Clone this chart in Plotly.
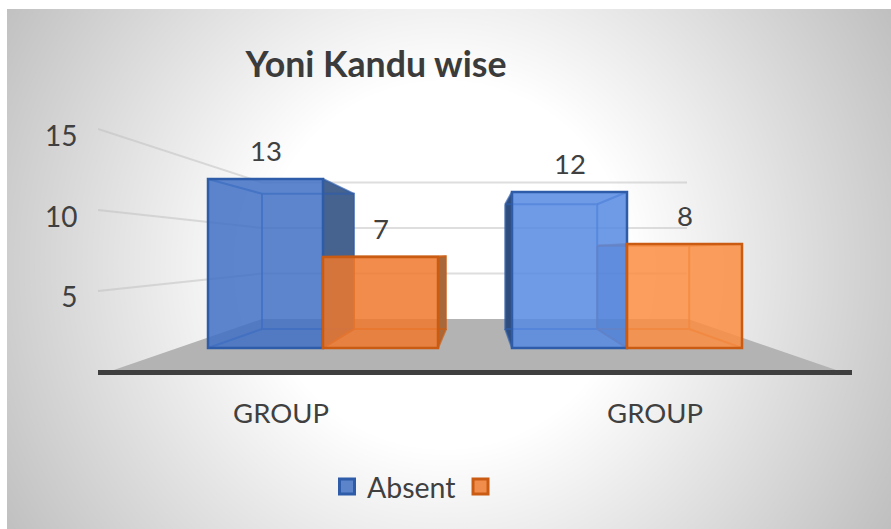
import plotly.graph_objects as go

# ---- chart data ----
categories = [0, 1]
category_labels = ["GROUP", "GROUP"]
absent_values = [13, 12]
other_values = [7, 8]
axis_ticks = [5, 10, 15]
series_names = ["Absent", " "]

# ---- styles ----
FONT = "Lato"
TEXT = "#404040"
BLUE_FILL = ["rgba(64,112,196,0.85)", "rgba(85,136,226,0.85)"]
ORANGE_FILL = ["rgba(238,120,45,0.85)", "rgba(250,141,66,0.85)"]
BLUE_EDGE = "#2F5CA8"
ORANGE_EDGE = "#C95C12"
BLUE_BACK = "rgba(47,92,168,0.7)"
ORANGE_BACK = "rgba(201,92,18,0.7)"
BLUE_SIDE = ["#46628F", "#2F4D7C"]
ORANGE_SIDE = ["rgba(60,45,40,0.0)", "rgba(30,50,110,0.42)"]
ORANGE_OUT = "#A9683A"

W, H = 891, 529
PL, PR, PT, PB = 98, 852, 100, 370   # plot area in page pixels

# scales (page pixels <-> data) of the perspective drawing
PX_PER_CAT = 304.0
CAT0_PX = 323.0
BAR_W = 115.0 / PX_PER_CAT
PX_PER_VAL = 13.0
BASE_PX = 348.0
LABEL_PX_PER_VAL = 16.07
LABEL_ZERO_PX = 377.4
VP = (478.0, 253.0)
DEPTH = 0.8


def x_data(px):
    return (px - CAT0_PX) / PX_PER_CAT


def x_px(x):
    return CAT0_PX + PX_PER_CAT * x


def y_px(v):
    return BASE_PX - PX_PER_VAL * v


def y1(py):
    return (LABEL_ZERO_PX - py) / LABEL_PX_PER_VAL


def back(p):
    return (VP[0] + (p[0] - VP[0]) * DEPTH, VP[1] + (p[1] - VP[1]) * DEPTH)


def poly_trace(points, fill=None, line=None, width=0):
    xs = [None if p is None else x_data(p[0]) for p in points]
    ys = [None if p is None else y1(p[1]) for p in points]
    return go.Scatter(
        x=xs, y=ys, mode="lines", showlegend=False, hoverinfo="skip",
        fill="toself" if fill else "none", fillcolor=fill,
        line=dict(color=line or "rgba(0,0,0,0)", width=width),
    )


fig = go.Figure()

# floor
floor_back_y = 319.0
fig.add_trace(poly_trace(
    [(108, 372), (842, 372), (688, floor_back_y), (262, floor_back_y), (108, 372)],
    fill="#B3B3B3"))

# wall gridlines derived from the axis ticks
WALL_PX_PER_VAL = 9.1
for t in axis_ticks:
    left_y = 372.0 - 16.2 * t
    wall_y = floor_back_y - WALL_PX_PER_VAL * t
    fig.add_trace(poly_trace([(98, left_y), (262, wall_y), (687, wall_y)],
                             line="rgba(190,190,190,0.5)", width=2))


def bar_faces(cat, value, side, side_fill, outer_fill, edge):
    x0 = x_px(cat) + (0 if side else -BAR_W * PX_PER_CAT)
    x1 = x0 + BAR_W * PX_PER_CAT
    top, bot = y_px(value), y_px(0)
    f = [(x0, top), (x1, top), (x1, bot), (x0, bot)]
    b = [back(p) for p in f]
    if b[1][0] > f[1][0]:      # right flank faces outwards
        face = [f[1], b[1], b[2], f[2], f[1]]
    else:                      # left flank faces outwards
        face = [f[0], b[0], b[3], f[3], f[0]]
    fig.add_trace(poly_trace(face, fill=outer_fill))
    if side_fill:
        inner = [f[0], b[0], b[3], f[3], f[0]]
        fig.add_trace(poly_trace(inner, fill=side_fill))
    edges = [b[0], b[1], b[2], b[3], b[0], None]
    for i in range(4):
        edges += [f[i], b[i], None]
    fig.add_trace(poly_trace(edges, line=edge, width=2))


for i, cat in enumerate(categories):
    bar_faces(cat, absent_values[i], 0, None, BLUE_SIDE[i], BLUE_BACK)
for i, cat in enumerate(categories):
    outer = ORANGE_OUT if x_px(cat) + BAR_W * PX_PER_CAT < VP[0] else "rgba(0,0,0,0)"
    bar_faces(cat, other_values[i], 1,
              ORANGE_SIDE[i] if i == 1 else None, outer, ORANGE_BACK)

# front faces: the real bars
fig.add_trace(go.Bar(x=categories, y=absent_values, name=series_names[0], yaxis="y2", showlegend=False,
                     marker=dict(color=BLUE_FILL, line=dict(color=BLUE_EDGE, width=2.5))))
fig.add_trace(go.Bar(x=categories, y=other_values, name=series_names[1], yaxis="y2", showlegend=False,
                     marker=dict(color=ORANGE_FILL, line=dict(color=ORANGE_EDGE, width=2.5))))

# legend keys
for nm, fc, ec in ((series_names[0], "#5B84CB", BLUE_EDGE), (series_names[1], "#F08C4C", ORANGE_EDGE)):
    fig.add_trace(go.Scatter(x=[None], y=[None], name=nm, mode="markers",
                             marker=dict(symbol="square", size=15, color=fc, line=dict(color=ec, width=3))))

annotations = []
for i, cat in enumerate(categories):
    for v, off in ((absent_values[i], -BAR_W / 2), (other_values[i], BAR_W / 2)):
        annotations.append(dict(x=cat + off, y=v, xref="x", yref="y2", text=str(v),
                                showarrow=False, yanchor="middle", yshift=29,
                                font=dict(family=FONT, size=27.5, color=TEXT)))

# background: radial gradient built from concentric discs
PLOT_W, PLOT_H = PR - PL, PB - PT


def xp(px):
    return (px - PL) / PLOT_W


def yp(py):
    return (PB - py) / PLOT_H


shapes = [dict(type="rect", xref="paper", yref="paper", x0=xp(0), x1=xp(W), y0=yp(H), y1=yp(0),
               fillcolor="#BFBFBF", line_width=0, layer="below")]
CX, CY = 445.0, 265.0
R_OUT, R_IN = 520.0, 185.0
LEVELS = 64
for k in range(LEVELS + 1):
    r = R_OUT - (R_OUT - R_IN) * k / LEVELS
    g = 191 + k
    shapes.append(dict(type="circle", xref="paper", yref="paper",
                       x0=xp(CX - r), x1=xp(CX + r), y0=yp(CY + r), y1=yp(CY - r),
                       fillcolor=f"rgb({g},{g},{g})", line_width=0, layer="below"))
# white page border round the panel (left and top only)
for a, b, c, d in [(0, 7, 0, H), (0, W, 0, 9)]:
    shapes.append(dict(type="rect", xref="paper", yref="paper", x0=xp(a), x1=xp(b), y0=yp(d), y1=yp(c),
                       fillcolor="white", line_width=0, layer="below"))

label_shift = [-42.0 / PX_PER_CAT, 28.0 / PX_PER_CAT]

fig.update_layout(
    width=W, height=H,
    margin=dict(l=PL, r=W - PR, t=PT, b=H - PB, autoexpand=False),
    paper_bgcolor="white", plot_bgcolor="rgba(0,0,0,0)",
    font=dict(family=FONT, color=TEXT),
    barmode="group", bargap=1 - 2 * BAR_W, bargroupgap=0,
    title=dict(text="<b>Yoni Kandu wise</b>", x=376 / W, y=1 - 65 / H, xanchor="center", yanchor="middle",
               xref="container", yref="container",
               font=dict(family=FONT, size=35.7, color="#3B3B3B")),
    xaxis=dict(range=[x_data(PL), x_data(PR)], tickmode="array",
               tickvals=[c + s for c, s in zip(categories, label_shift)], ticktext=category_labels,
               showgrid=False, zeroline=False, showline=True, linecolor="#3F3F3F", linewidth=5,
               ticks="outside", ticklen=15, tickcolor="rgba(0,0,0,0)",
               tickfont=dict(family=FONT, size=27.5, color=TEXT)),
    yaxis=dict(range=[y1(PB), y1(PT)], tickmode="array", tickvals=axis_ticks,
               showgrid=False, zeroline=False, showline=False,
               ticks="outside", ticklen=14, tickcolor="rgba(0,0,0,0)",
               tickfont=dict(family=FONT, size=28, color=TEXT)),
    yaxis2=dict(overlaying="y", side="left", visible=False,
                range=[(BASE_PX - PB) / PX_PER_VAL, (BASE_PX - PT) / PX_PER_VAL]),
    legend=dict(orientation="h", x=xp(420), y=yp(487), xanchor="center", yanchor="middle",
                bgcolor="rgba(0,0,0,0)",
                font=dict(family=FONT, size=28.5, color=TEXT), traceorder="normal"),
    shapes=shapes, annotations=annotations,
)

fig.write_html("out.html", config={"displayModeBar": False},
               post_script="document.body.style.margin='0';")
